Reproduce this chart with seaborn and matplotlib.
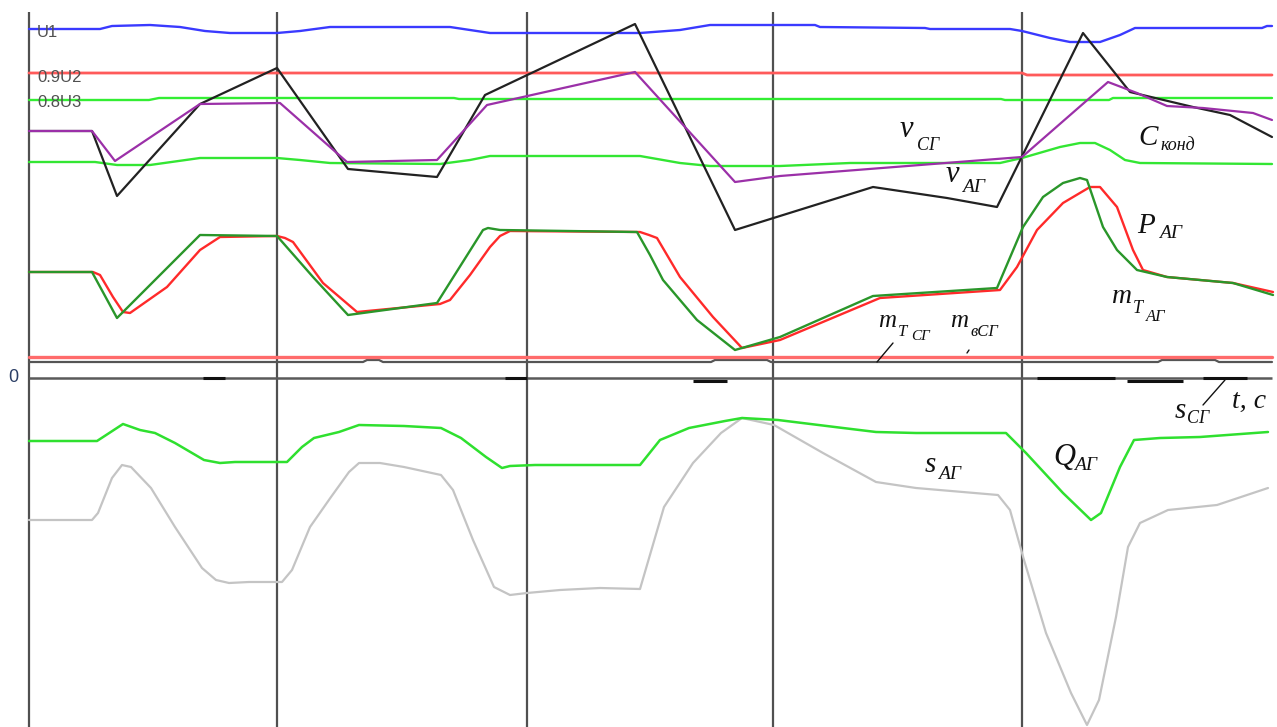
import numpy as np
import matplotlib
matplotlib.use("Agg")
import matplotlib.pyplot as plt
import seaborn as sns

# ---- time axis (divisions of the recorder) ----
grid_t = [0.0, 2.48, 4.98, 7.44, 9.93]

# ---- voltages ----
u1_t = [0, 0.71, 0.83, 1.21, 1.51, 1.76, 2.01, 2.48, 2.71, 3.01, 4.21, 4.41, 4.61, 6.11, 6.51,
        6.81, 7.86, 7.91, 8.96, 9.01, 9.81, 9.93, 10.21, 10.41, 10.71, 10.91, 11.06, 12.33, 12.38, 12.43]
u1_v = [3.49, 3.49, 3.52, 3.53, 3.51, 3.47, 3.45, 3.45, 3.47, 3.51, 3.51, 3.48, 3.45, 3.45, 3.48,
        3.53, 3.53, 3.51, 3.50, 3.49, 3.49, 3.47, 3.40, 3.36, 3.36, 3.43, 3.50, 3.50, 3.52, 3.52]

u2_t = [0, 9.93, 9.98, 12.43]
u2_v = [3.05, 3.05, 3.03, 3.03]

u3_t = [0, 1.2, 1.3, 4.25, 4.3, 9.72, 9.76, 10.8, 10.84, 12.43]
u3_v = [2.78, 2.78, 2.80, 2.80, 2.79, 2.79, 2.78, 2.78, 2.80, 2.80]

# ---- capacitor bank ----
ck_t = [0, 0.66, 0.88, 1.21, 1.71, 2.48, 2.71, 3.01, 4.11, 4.41, 4.61, 6.11, 6.51, 6.81, 7.51,
        8.21, 9.71, 9.93, 10.31, 10.51, 10.66, 10.81, 10.96, 11.11, 12.43]
ck_v = [2.16, 2.16, 2.13, 2.13, 2.20, 2.20, 2.18, 2.15, 2.14, 2.18, 2.22, 2.22, 2.15, 2.12, 2.12,
        2.15, 2.15, 2.20, 2.31, 2.35, 2.35, 2.28, 2.18, 2.15, 2.14]

# ---- frequencies ----
nu_sg_t = [0, 0.63, 0.86, 1.71, 2.51, 3.18, 4.08, 4.58, 6.06, 7.06, 7.51, 9.93, 10.79, 11.08,
           11.38, 11.74, 12.24, 12.43]
nu_sg_v = [2.47, 2.47, 2.17, 2.74, 2.75, 2.16, 2.18, 2.73, 3.06, 1.96, 2.02, 2.21, 2.96, 2.85,
           2.72, 2.70, 2.65, 2.58]

nu_ag_t = [0, 0.63, 0.88, 1.71, 2.48, 3.19, 4.08, 4.56, 6.06, 7.06, 8.44, 9.18, 9.68, 10.54,
           11.01, 11.64, 12.01, 12.43]
nu_ag_v = [2.47, 2.47, 1.82, 2.74, 3.10, 2.09, 2.01, 2.83, 3.54, 1.48, 1.91, 1.80, 1.71, 3.45,
           2.86, 2.71, 2.63, 2.41]

# ---- active power and turbine torque of the asynchronous generator ----
mt_ag_t = [0, 0.63, 0.88, 1.71, 2.48, 2.84, 3.19, 4.08, 4.54, 4.59, 4.71, 6.08, 6.21, 6.34, 6.68,
           7.06, 7.51, 8.44, 9.68, 9.94, 10.14, 10.34, 10.51, 10.58, 10.74, 10.88, 11.08, 11.38,
           12.04, 12.44]
mt_ag_v = [1.06, 1.06, 0.60, 1.43, 1.42, 1.01, 0.63, 0.75, 1.48, 1.50, 1.48, 1.46, 1.23, 0.98,
           0.58, 0.28, 0.41, 0.82, 0.90, 1.51, 1.81, 1.95, 2.00, 1.98, 1.51, 1.28, 1.08, 1.01,
           0.95, 0.83]

p_ag_t = [0, 0.64, 0.71, 0.84, 0.94, 1.01, 1.38, 1.71, 1.91, 2.48, 2.56, 2.64, 2.94, 3.28, 4.11,
          4.21, 4.41, 4.61, 4.71, 4.81, 6.11, 6.20, 6.28, 6.51, 6.84, 7.13, 7.51, 8.51, 9.71,
          9.88, 10.08, 10.34, 10.61, 10.71, 10.88, 11.04, 11.14, 11.38, 12.04, 12.44]
p_ag_v = [1.06, 1.06, 1.03, 0.81, 0.66, 0.65, 0.91, 1.28, 1.41, 1.42, 1.40, 1.36, 0.95, 0.66, 0.74,
          0.78, 1.03, 1.31, 1.42, 1.47, 1.46, 1.43, 1.40, 1.01, 0.61, 0.30, 0.38, 0.80, 0.88,
          1.11, 1.48, 1.75, 1.91, 1.91, 1.71, 1.28, 1.08, 1.01, 0.95, 0.86]

# ---- synchronous generator torques and slip ----
me_sg_t = [0, 12.43]
me_sg_v = [0.21, 0.21]

mt_sg_t = [0, 3.34, 3.38, 3.50, 3.54, 6.82, 6.86, 7.38, 7.42, 11.29, 11.33, 11.86, 11.90, 12.43]
mt_sg_v = [0.16, 0.16, 0.18, 0.18, 0.16, 0.16, 0.18, 0.18, 0.16, 0.16, 0.18, 0.18, 0.16, 0.16]

# slip of the synchronous generator: piecewise-constant stretches
s_sg_start = [1.74, 4.76, 6.64, 10.08, 10.98, 11.74]
s_sg_end = [1.96, 4.98, 6.98, 10.86, 11.54, 12.18]
s_sg_v = [0.0, 0.0, -0.03, 0.0, -0.03, 0.0]

# ---- reactive power and slip of the asynchronous generator ----
q_ag_t = [0, 0.68, 0.94, 1.11, 1.26, 1.46, 1.75, 1.91, 2.06, 2.58, 2.73, 2.85, 3.10, 3.30, 3.75,
          4.12, 4.32, 4.57, 4.73, 4.81, 5.06, 6.11, 6.31, 6.60, 6.96, 7.13, 7.49, 8.14, 8.47, 8.87,
          9.77, 9.97, 10.34, 10.62, 10.72, 10.91, 11.05, 11.31, 11.71, 12.39]
q_ag_v = [-0.63, -0.63, -0.46, -0.52, -0.55, -0.65, -0.82, -0.85, -0.84, -0.84, -0.69, -0.60, -0.54,
          -0.47, -0.48, -0.50, -0.60, -0.79, -0.90, -0.88, -0.87, -0.87, -0.62, -0.50, -0.43, -0.40,
          -0.42, -0.50, -0.54, -0.55, -0.55, -0.75, -1.15, -1.42, -1.35, -0.89, -0.62, -0.60, -0.59, -0.54]

s_ag_t = [0, 0.63, 0.69, 0.83, 0.93, 1.02, 1.22, 1.46, 1.73, 1.87, 2.00, 2.20, 2.53, 2.63, 2.81,
          3.02, 3.20, 3.30, 3.51, 3.75, 4.12, 4.24, 4.44, 4.65, 4.81, 4.98, 5.31, 5.71, 6.11, 6.35,
          6.64, 6.92, 7.13, 7.45, 7.94, 8.47, 8.87, 9.69, 9.81, 9.95, 10.17, 10.42, 10.58, 10.70,
          10.87, 10.99, 11.11, 11.39, 11.88, 12.39]
s_ag_v = [-1.42, -1.42, -1.35, -1.00, -0.87, -0.89, -1.10, -1.49, -1.90, -2.02, -2.05, -2.04, -2.04,
          -1.92, -1.49, -1.19, -0.94, -0.85, -0.85, -0.89, -0.97, -1.12, -1.62, -2.09, -2.17, -2.15,
          -2.12, -2.10, -2.11, -1.29, -0.85, -0.55, -0.40, -0.47, -0.75, -1.04, -1.10, -1.17, -1.32,
          -1.82, -2.55, -3.15, -3.47, -3.22, -2.39, -1.69, -1.45, -1.32, -1.27, -1.10]

sns.set_style("white")
plt.rcParams["font.family"] = ["Liberation Serif", "DejaVu Serif"]

fig = plt.figure(figsize=(12.77, 7.27), dpi=100)
ax = fig.add_axes([0, 0, 1, 1])
ax.set_xlim(-0.29, 12.48)
ax.set_ylim(-3.49, 3.78)
ax.axis("off")

# division lines and zero line
ax.vlines(grid_t, -3.6, 3.66, color="#505050", lw=1.6, zorder=1)
ax.hlines(0.0, 0, 12.43, color="#5a5a5a", lw=1.8, zorder=1)


def trace(t, v, color, lw=1.5, z=3):
    sns.lineplot(x=t, y=v, ax=ax, color=color, lw=lw, estimator=None, sort=False,
                 zorder=z, legend=False)


trace(s_ag_t, s_ag_v, "#c4c4c4", 1.6)
trace(q_ag_t, q_ag_v, "#2fe02f", 1.8)
trace(mt_sg_t, mt_sg_v, "#555555", 1.6)
trace(me_sg_t, me_sg_v, "#ff6b6b", 2.4)
ax.hlines(s_sg_v, s_sg_start, s_sg_end, color="#111111", lw=2.2, zorder=4)
trace(u1_t, u1_v, "#3a3aff", 1.7)
trace(u2_t, u2_v, "#ff5a5a", 2.0)
trace(u3_t, u3_v, "#33ee33", 1.7)
trace(ck_t, ck_v, "#33e633", 1.7)
trace(nu_ag_t, nu_ag_v, "#222222", 1.6)
trace(nu_sg_t, nu_sg_v, "#9b30a8", 1.6)
trace(p_ag_t, p_ag_v, "#ff2a2a", 1.7)
trace(mt_ag_t, mt_ag_v, "#2a962a", 1.7)

# leader lines
ax.plot([8.48, 8.64], [0.16, 0.35], color="#111111", lw=1.0, zorder=5)
ax.plot([9.38, 9.40], [0.25, 0.28], color="#111111", lw=1.0, zorder=5)
ax.plot([11.74, 11.96], [-0.27, -0.02], color="#111111", lw=1.0, zorder=5)

# channel names
sans = dict(family="Liberation Sans", color="#505050", fontsize=12, va="baseline", ha="left")
ax.text(0.08, 3.41, "U1", **sans)
ax.text(0.08, 2.96, "0.9U2", **sans)
ax.text(0.08, 2.71, "0.8U3", **sans)
ax.text(-0.16, 0.0, "0", family="Liberation Sans", color="#2c3f66", fontsize=13,
        ha="center", va="center")

# curve labels
it = dict(style="italic", color="#111111", va="baseline", ha="left", zorder=6)
ax.text(8.71, 2.41, "ν", fontsize=22, **it)
ax.text(8.88, 2.28, "СГ", fontsize=13, **it)
ax.text(9.17, 1.96, "ν", fontsize=22, **it)
ax.text(9.33, 1.86, "АГ", fontsize=14, **it)
ax.text(11.09, 2.33, "C", fontsize=21, **it)
ax.text(11.31, 2.28, "конд", fontsize=13, **it)
ax.text(11.08, 1.45, "P", fontsize=21, **it)
ax.text(11.30, 1.40, "АГ", fontsize=14, **it)
ax.text(10.83, 0.75, "m", fontsize=20, **it)
ax.text(11.04, 0.65, "T", fontsize=13, **it)
ax.text(11.17, 0.57, "АГ", fontsize=12, **it)
ax.text(8.49, 0.51, "m", fontsize=18, **it)
ax.text(8.69, 0.42, "T", fontsize=12, **it)
ax.text(8.82, 0.38, "СГ", fontsize=11, **it)
ax.text(9.21, 0.51, "m", fontsize=18, **it)
ax.text(9.41, 0.42, "вСГ", fontsize=12, **it)
ax.text(12.03, -0.30, "t, c", fontsize=20, **it)
ax.text(11.46, -0.40, "s", fontsize=21, **it)
ax.text(11.58, -0.45, "СГ", fontsize=13, **it)
ax.text(8.96, -0.94, "s", fontsize=21, **it)
ax.text(9.09, -1.01, "АГ", fontsize=14, **it)
ax.text(10.24, -0.87, "Q", fontsize=22, **it)
ax.text(10.45, -0.92, "АГ", fontsize=14, **it)

fig.savefig("out.png", dpi=100, facecolor="white")
